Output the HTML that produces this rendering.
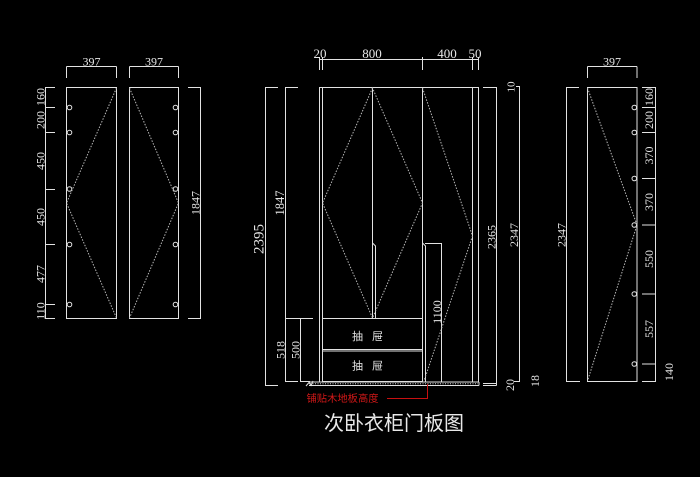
<!DOCTYPE html>
<html><head><meta charset="utf-8"><style>
html,body{margin:0;padding:0;background:#000;}
svg{display:block;}
text{font-family:"Liberation Serif",serif;fill:#e6e6e6;}
.cjk{font-family:"Liberation Sans","Noto Sans CJK SC",sans-serif;}
</style></head><body>
<svg width="700" height="477" viewBox="0 0 700 477" xmlns="http://www.w3.org/2000/svg">
<rect width="700" height="477" fill="#000"/>
<g stroke="#e2e2e2" stroke-width="1" fill="none">
<!-- LEFT PANELS -->
<rect x="66.5" y="87.5" width="50" height="231"/>
<rect x="129.5" y="87.5" width="49" height="231"/>
<!-- top dims -->
<path d="M66.5 66.5H116.5M66.5 66.5V78M116.5 66.5V78"/>
<path d="M129.5 66.5H178.5M129.5 66.5V78M178.5 66.5V78"/>
<!-- left dim -->
<path d="M45.5 87V319M45 87.5H55M45 107.5H55M45 132.5H55M45 189.5H55M45 244.5H55M45 304.5H55M45 318.5H55"/>
<!-- right 1847 dim -->
<path d="M200.5 87V319M188 87.5H201M188 318.5H201"/>
<!-- circles -->
<circle cx="69.5" cy="107.5" r="2.3"/><circle cx="69.5" cy="132.5" r="2.3"/><circle cx="69.5" cy="189" r="2.3"/><circle cx="69.5" cy="244.5" r="2.3"/><circle cx="69.5" cy="304.5" r="2.3"/>
<circle cx="175.5" cy="107.5" r="2.3"/><circle cx="175.5" cy="132.5" r="2.3"/><circle cx="175.5" cy="189" r="2.3"/><circle cx="175.5" cy="244.5" r="2.3"/><circle cx="175.5" cy="304.5" r="2.3"/>

<!-- CENTER CABINET -->
<path d="M319.5 87V382M322.5 87V382M472.5 87V382M478.5 87V382M319 87.5H479"/>
<path d="M372.5 87V318.5"/>
<path d="M372.5 243L375.5 246V318.5"/>
<path d="M422.5 87V382"/>
<path d="M422.5 243L425.5 246V382"/>
<path d="M425 243.5H441.5M441.5 243V382"/>
<!-- drawers -->
<path d="M322.5 318.5H422.5M322.5 349.5H422.5M322.5 351H422.5M322.5 381.5H422.5"/>
<!-- floor strip -->
<path d="M309 382H479M309 385.5H479M479 382V385.5"/>
<path d="M306 386L309 382.5L311 385.5L313 381"/>
<!-- top dim -->
<path d="M319 59.5H479M319.5 57V70M322.5 57V70M422.5 57V70M472.5 57V70M478.5 57V70"/>
<!-- left dims -->
<path d="M265.5 87V385.5M265 87.5H278M265 385.5H278"/>
<path d="M285.5 87V382M285 87.5H298M285 318.5H313M285 381.5H298"/>
<path d="M300.5 318.5V381.5M300 381.5H310"/>
<!-- right dims -->
<path d="M483 87.5H496.5M496.5 87V385.5M483 383.5H496.5M483 385.5H496.5"/>
<path d="M519.5 86V381M516 86.5H520M514 381.5H520"/>

<!-- RIGHT PANEL -->
<rect x="587.5" y="87.5" width="49.5" height="294"/>
<path d="M587.5 66.5H637M587.5 66.5V78M637 66.5V78"/>
<path d="M566.5 87V382M566 87.5H579M566 381.5H580"/>
<path d="M655.5 87V382M642 87.5H656M642 107.5H656M642 132.5H656M642 178.5H656M642 225H656M642 294H656M642 364H656M642 381.5H656"/>
<circle cx="634.3" cy="107.5" r="2.3"/><circle cx="634.3" cy="132.5" r="2.3"/><circle cx="634.3" cy="178.5" r="2.3"/><circle cx="634.3" cy="225" r="2.3"/><circle cx="634.3" cy="294" r="2.3"/><circle cx="634.3" cy="364" r="2.3"/>
</g>

<!-- dotted diagonals -->
<g stroke="#b8b8b8" stroke-width="1" fill="none" stroke-dasharray="1.5 1.5">
<polyline points="116.5,88 66.5,203 116.5,318"/>
<polyline points="129.5,88 178.5,203 129.5,318"/>
<polygon points="372.5,88 322.5,203 372.5,318 422.5,203"/>
<polyline points="422.5,88 472.5,236 424,381"/>
<polyline points="587.5,88 637,225 587.5,381"/>
<path d="M310 383.8H478" stroke="#cfcfcf" stroke-dasharray="1 1.5"/>
</g>

<!-- red leader -->
<path d="M387 398.5H427.5V384" stroke="#c81010" stroke-width="1" fill="none"/>

<!-- TEXT -->
<g font-size="12">
<text x="91.5" y="65.5" text-anchor="middle">397</text>
<text x="154" y="65.5" text-anchor="middle">397</text>
<text x="612" y="65.5" text-anchor="middle">397</text>
</g>
<g font-size="12" text-anchor="middle" dominant-baseline="central">
<text transform="translate(40.5,97) rotate(-90)">160</text>
<text transform="translate(40.5,120) rotate(-90)">200</text>
<text transform="translate(40.5,161) rotate(-90)">450</text>
<text transform="translate(40.5,217) rotate(-90)">450</text>
<text transform="translate(40.5,274) rotate(-90)">477</text>
<text transform="translate(40.5,311) rotate(-90)">110</text>
<text transform="translate(195.5,203) rotate(-90)">1847</text>

<text transform="translate(280,203) rotate(-90)" font-size="12.5">1847</text>
<text transform="translate(280.5,350) rotate(-90)">518</text>
<text transform="translate(295.5,350) rotate(-90)">500</text>
<text transform="translate(437,312) rotate(-90)">1100</text>
<text transform="translate(491.5,237) rotate(-90)">2365</text>
<text transform="translate(514,235) rotate(-90)">2347</text>
<text transform="translate(511.5,87) rotate(-90)" font-size="11">10</text>
<text transform="translate(510,385) rotate(-90)">20</text>
<text transform="translate(535,381) rotate(-90)">18</text>

<text transform="translate(561.5,235) rotate(-90)">2347</text>
<text transform="translate(649,97) rotate(-90)">160</text>
<text transform="translate(649,120) rotate(-90)">200</text>
<text transform="translate(649,155.5) rotate(-90)">370</text>
<text transform="translate(649,202) rotate(-90)">370</text>
<text transform="translate(649,259) rotate(-90)">550</text>
<text transform="translate(649,329) rotate(-90)">557</text>
<text transform="translate(669,372) rotate(-90)">140</text>
</g>
<text transform="translate(259.5,239) rotate(-90)" font-size="15" text-anchor="middle" dominant-baseline="central">2395</text>

<g font-size="13" text-anchor="middle">
<text x="320" y="58">20</text>
<text x="372" y="58">800</text>
<text x="447" y="58">400</text>
<text x="475" y="58">50</text>
</g>

<g class="cjk" font-size="11" text-anchor="middle">
<text class="cjk" x="357.5" y="340">抽</text>
<text class="cjk" x="377.5" y="340">屉</text>
<text class="cjk" x="357.5" y="369.5">抽</text>
<text class="cjk" x="377.5" y="369.5">屉</text>
</g>
<text class="cjk" x="306.5" y="402" font-size="10.3" style="fill:#d01818">铺贴木地板高度</text>
<text class="cjk" x="394" y="430" font-size="20" text-anchor="middle" style="fill:#e8e8e8">次卧衣柜门板图</text>
</svg>
</body></html>
